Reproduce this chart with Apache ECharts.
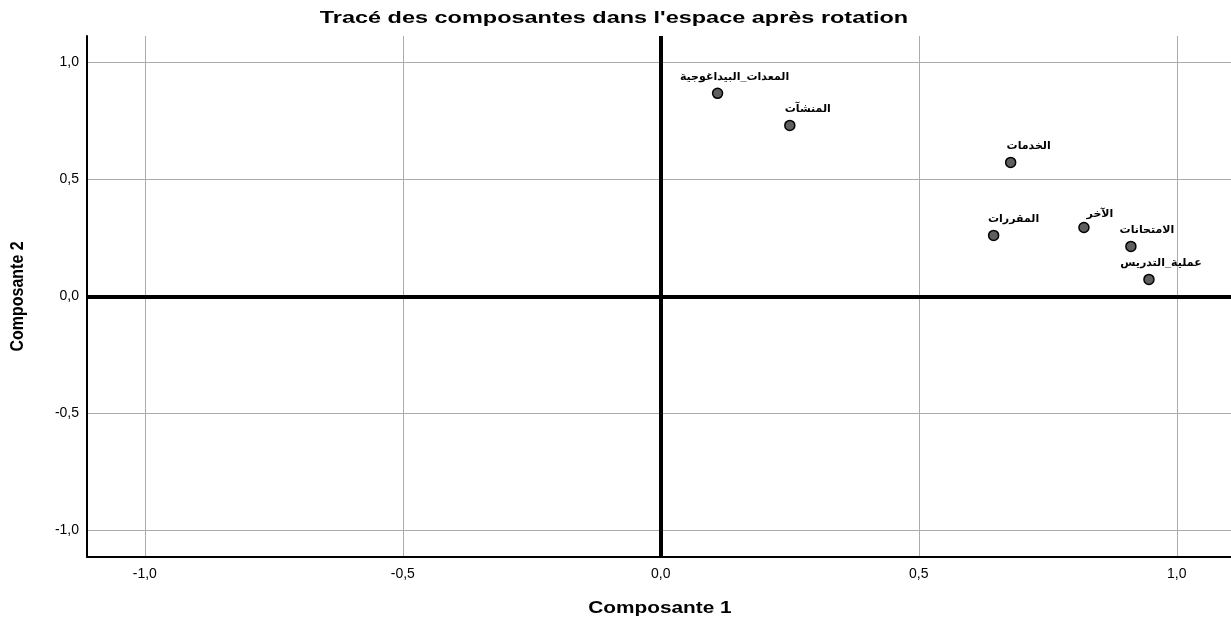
<!DOCTYPE html>
<html>
<head>
<meta charset="utf-8">
<style>
  html, body { margin: 0; padding: 0; background: #ffffff; }
  #chart { width: 1231px; height: 626px; }
</style>
<script src="https://cdn.jsdelivr.net/npm/echarts@6/dist/echarts.min.js"></script>
</head>
<body>
<div id="chart"></div>
<script>
// Rotated component loadings: variable names and their coordinates
const variableNames = [
  'المعدات_البيداغوجية',
  'المنشآت',
  'الخدمات',
  'المقررات',
  'الآخر',
  'الامتحانات',
  'عملية_التدريس'
];
const component1 = [0.110, 0.250, 0.678, 0.645, 0.820, 0.911, 0.946];
const component2 = [0.868, 0.731, 0.573, 0.261, 0.295, 0.214, 0.073];

// Axis extents and tick values
const xRange = [-1.112, 1.105];
const yRange = [-1.113, 1.113];
const tickValues = [-1.0, -0.5, 0.0, 0.5, 1.0];

const chartTitle = "Tracé des composantes dans l'espace après rotation";
const xName = 'Composante 1';
const yName = 'Composante 2';

// Label placement per point (pixel shifts so names do not collide)
const labelShift = [[17, 0], [18, 0], [18, 0], [20, 0], [16, 3], [16, 0], [12, 0]];

const fontStack = 'Liberation Sans, Arial, DejaVu Sans, sans-serif';

function tickLabel(v) {
  const hit = tickValues.find(t => Math.abs(t - v) < 1e-6);
  if (hit === undefined) return '';
  return hit.toFixed(1).replace('.', ',');
}

const points = variableNames.map((name, i) => ({
  name: name,
  value: [component1[i], component2[i]],
  label: { offset: labelShift[i] }
}));

const chart = echarts.init(document.getElementById('chart'), null, { renderer: 'canvas' });

const gridBox = { left: 87, right: 0, top: 36, bottom: 69 };
const W = 1231, H = 626;

chart.setOption({
  backgroundColor: '#ffffff',
  animation: false,
  // Title and axis captions use a slightly widened bold face
  graphic: [
    {
      type: 'text',
      x: 614, y: 18,
      scaleX: 1.38,
      style: {
        text: chartTitle,
        font: 'bold 17px ' + fontStack,
        fill: '#000',
        textAlign: 'center',
        textVerticalAlign: 'middle'
      }
    },
    {
      type: 'text',
      x: gridBox.left + (W - gridBox.left) / 2 + 1, y: 609,
      scaleX: 1.3,
      style: {
        text: xName,
        font: 'bold 16px ' + fontStack,
        fill: '#000',
        textAlign: 'center',
        textVerticalAlign: 'middle'
      }
    },
    {
      type: 'text',
      x: 18, y: gridBox.top + (H - gridBox.top - gridBox.bottom) / 2,
      rotation: Math.PI / 2,
      scaleY: 1.15,
      style: {
        text: yName,
        font: 'bold 16px ' + fontStack,
        fill: '#000',
        textAlign: 'center',
        textVerticalAlign: 'middle'
      }
    }
  ],
  grid: Object.assign({ containLabel: false }, gridBox),
  xAxis: {
    type: 'value',
    min: xRange[0],
    max: xRange[1],
    splitNumber: 5,
    axisLine: { show: true, onZero: false, lineStyle: { color: '#000', width: 2 } },
    axisTick: { show: false },
    axisLabel: {
      formatter: tickLabel, showMinLabel: false, showMaxLabel: false,
      fontFamily: fontStack, fontSize: 14, color: '#000', margin: 10
    },
    splitLine: {
      show: true, showMinLine: false, showMaxLine: false,
      lineStyle: { color: '#ababab', width: 1 }
    }
  },
  yAxis: {
    type: 'value',
    min: yRange[0],
    max: yRange[1],
    splitNumber: 5,
    axisLine: { show: true, onZero: false, lineStyle: { color: '#000', width: 2 } },
    axisTick: { show: false },
    axisLabel: {
      formatter: tickLabel, showMinLabel: false, showMaxLabel: false,
      fontFamily: fontStack, fontSize: 14, color: '#000', margin: 8
    },
    splitLine: {
      show: true, showMinLine: false, showMaxLine: false,
      lineStyle: { color: '#ababab', width: 1 }
    }
  },
  series: [{
    type: 'scatter',
    data: points,
    symbol: 'circle',
    symbolSize: 10,
    itemStyle: { color: '#5f5f5f', borderColor: '#000', borderWidth: 1.5, opacity: 1 },
    label: {
      show: true,
      position: 'top',
      distance: 5,
      formatter: p => p.name,
      fontFamily: fontStack,
      fontSize: 11,
      fontWeight: 'bold',
      color: '#000'
    },
    markLine: {
      silent: true,
      symbol: ['none', 'none'],
      label: { show: false },
      lineStyle: { color: '#000', width: 4, type: 'solid' },
      data: [{ xAxis: 0 }, { yAxis: 0 }],
      z: 1
    },
    z: 3
  }]
});
</script>
</body>
</html>
